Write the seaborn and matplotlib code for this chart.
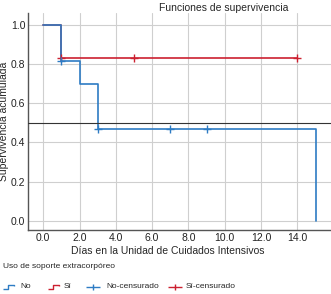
import numpy as np
import pandas as pd
import matplotlib
matplotlib.use("Agg")
import matplotlib.pyplot as plt
from matplotlib.lines import Line2D
from matplotlib.path import Path
import seaborn as sns

# ---- data ----
no_times = [0, 1, 2, 3, 15]
no_surv = [1.0, 0.818, 0.70, 0.467, 0.0]
si_times = [0, 1, 14]
si_surv = [1.0, 0.833, 0.833]
no_cens_t = [1, 3, 7, 9]
no_cens_s = [0.818, 0.467, 0.467, 0.467]
si_cens_t = [1, 5, 14]
si_cens_s = [0.833, 0.833, 0.833]
groups = ["No", "Sí"]
legend_labels = ["No", "Sí", "No-censurado", "Sí-censurado"]
xticks = [0, 2, 4, 6, 8, 10, 12, 14]
yticks = [0.0, 0.2, 0.4, 0.6, 0.8, 1.0]

BLUE = "#2e7cc4"
RED = "#cc2030"

sns.set_style("whitegrid")
plt.rcParams["font.family"] = ["Liberation Sans", "DejaVu Sans"]

curves = pd.concat([
    pd.DataFrame({"t": si_times, "s": si_surv, "g": "Sí"}),
    pd.DataFrame({"t": no_times, "s": no_surv, "g": "No"}),
])
cens = pd.concat([
    pd.DataFrame({"t": si_cens_t, "s": si_cens_s, "g": "Sí"}),
    pd.DataFrame({"t": no_cens_t, "s": no_cens_s, "g": "No"}),
])

W, H = 331, 294
fig = plt.figure(figsize=(W / 100, H / 100), dpi=100)
ax = fig.add_axes([0.0846, 0.2177, 0.9154, 0.7381])

pal = {"No": BLUE, "Sí": RED}
sns.lineplot(data=curves, x="t", y="s", hue="g", palette=pal, estimator=None,
             sort=False, drawstyle="steps-post", linewidth=1.2, ax=ax,
             legend=False, hue_order=["Sí", "No"])
for g in ["Sí", "No"]:
    d = cens[cens["g"] == g]
    ax.plot(d["t"], d["s"], linestyle="none", marker="+", markersize=6,
            markeredgewidth=1.0, color=pal[g], zorder=4)

ax.axhline(0.5, color="#333333", linewidth=0.8, zorder=3)

ax.set_xlim(-0.84, 15.85)
ax.set_ylim(-0.048, 1.062)
ax.set_xticks(xticks)
ax.set_yticks(yticks)
ax.set_xticklabels([f"{v:.1f}" for v in xticks], fontsize=7.5)
ax.set_yticklabels([f"{v:.1f}" for v in yticks], fontsize=7.5)
ax.tick_params(length=0, pad=2, colors="#222222")
ax.grid(True, color="#cfcfcf", linewidth=0.8)
for s in ["top", "right"]:
    ax.spines[s].set_visible(False)
for s in ["left", "bottom"]:
    ax.spines[s].set_color("#555555")
    ax.spines[s].set_linewidth(1.0)
ax.set_xlabel("Días en la Unidad de Cuidados Intensivos", fontsize=7.5, labelpad=2)
ax.xaxis.set_label_coords(0.46, -0.075)
ax.set_ylabel("Supervivencia acumulada", fontsize=7.5, labelpad=1)

fig.text(0.677, 0.972, "Funciones de supervivencia", ha="center", va="center", fontsize=7.5)
fig.text(0.008, 0.095, "Uso de soporte extracorpóreo", ha="left", va="center", fontsize=6.0)

# ---- legend (manual) ----
step = Path([(-1, -0.35), (-0.1, -0.35), (-0.1, 0.35), (0.8, 0.35), (0.8, 0.1)],
            [Path.MOVETO, Path.LINETO, Path.LINETO, Path.LINETO, Path.LINETO])
plus = Path([(-1, 0), (1, 0), (0, -0.45), (0, 0.45)],
            [Path.MOVETO, Path.LINETO, Path.MOVETO, Path.LINETO])
ly = 1 - 287 / H
items = [
    (9, 20, step, 9, BLUE),
    (54, 64, step, 9, RED),
    (93, 106, plus, 10, BLUE),
    (175, 186, plus, 10, RED),
]
for (mx, tx, mk, ms, col), lab in zip(items, legend_labels):
    fig.add_artist(Line2D([mx / W], [ly], transform=fig.transFigure, linestyle="none",
                          marker=mk, markersize=ms, markerfacecolor="none",
                          markeredgecolor=col, markeredgewidth=1.0))
    fig.text(tx / W, ly, lab, ha="left", va="center", fontsize=6.0)

fig.savefig("out.png", dpi=100)
